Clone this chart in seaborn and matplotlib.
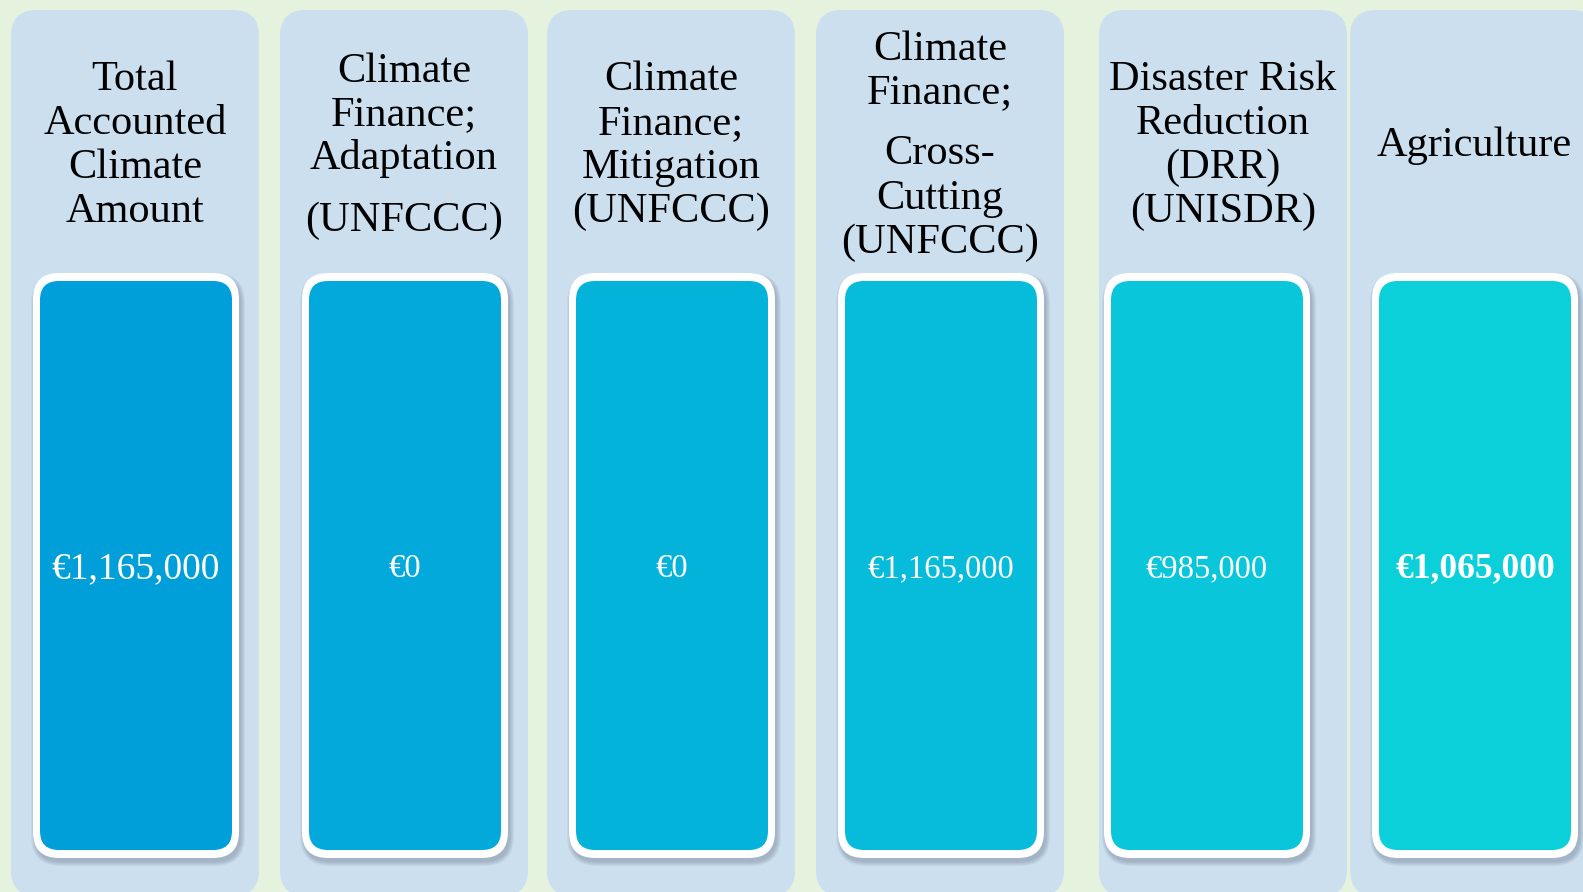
import matplotlib
matplotlib.use("Agg")
import matplotlib.pyplot as plt
from matplotlib.patches import FancyBboxPatch
import seaborn as sns

# headers ("\n\n" = paragraph break) and the amounts shown in each box
headers = [
    "Total\nAccounted\nClimate\nAmount",
    "Climate\nFinance;\nAdaptation\n\n(UNFCCC)",
    "Climate\nFinance;\nMitigation\n(UNFCCC)",
    "Climate\nFinance;\n\nCross-\nCutting\n(UNFCCC)",
    "Disaster Risk\nReduction\n(DRR)\n(UNISDR)",
    "Agriculture",
]
values = [1165000, 0, 0, 1165000, 985000, 1065000]

sns.set_theme(style="white")
plt.rcParams["font.family"] = ["Liberation Serif", "DejaVu Serif"]

W, H = 1583, 892
fig = plt.figure(figsize=(W / 100, H / 100), dpi=100)
fig.patch.set_facecolor("#E4F2DE")
ax = fig.add_axes([0, 0, 1, 1])
ax.set_xlim(0, W)
ax.set_ylim(H, 0)
ax.axis("off")

palette = sns.blend_palette(["#009FDA", "#0BD0DA"], len(values))

# layout (pixels)
col_left = [11, 280, 547, 816, 1099, 1350]
box_off = [22, 22, 22, 22, 5, 22]
col_w = 248
line_h, para_gap = 44, 17
head_center = 142


def rbox(x, y, w, h, r, **kw):
    p = FancyBboxPatch((x, y), w, h, boxstyle=f"round,pad=0,rounding_size={r}", **kw)
    ax.add_patch(p)
    return p


for i, (head, val, col) in enumerate(zip(headers, values, palette)):
    L = col_left[i]
    bx = L + box_off[i]
    # column background
    rbox(L, 10, col_w, 886, 26, facecolor="#CCDFEF", edgecolor="none", zorder=1)

    # soft shadow under the white frame
    for k in range(5):
        rbox(bx - k + 2, 273 - k + 4, 206 + 2 * k, 585 + 2 * k, 26 + k,
             facecolor="#4A5A6E", edgecolor="none", alpha=0.07, zorder=2)
    rbox(bx, 273, 206, 585, 26, facecolor="white", edgecolor="none", zorder=3)
    rbox(bx + 7, 281, 192, 569, 19, facecolor=col, edgecolor="none", zorder=4)

    # header lines
    ys, y, pending, lines = [], 0, 0, []
    for tok in head.split("\n"):
        if tok == "":
            pending += para_gap
            continue
        if lines:
            y += line_h + pending
        pending = 0
        ys.append(y)
        lines.append(tok)
    off = head_center - (ys[0] + ys[-1]) / 2
    for tok, yy in zip(lines, ys):
        ax.text(L + col_w / 2, yy + off + 14, tok, ha="center", va="baseline",
                fontsize=30.5, color="black", zorder=5)

    # value label
    size, weight = 23.5, "normal"
    if i == 0:
        size = 27
    if i == len(values) - 1:
        size, weight = 25.5, "bold"
    ax.text(bx + 103, 569, f"€{val:,}", ha="center", va="center",
            fontsize=size, fontweight=weight, color="white", zorder=5)

fig.savefig("out.png", dpi=100, facecolor=fig.get_facecolor())
